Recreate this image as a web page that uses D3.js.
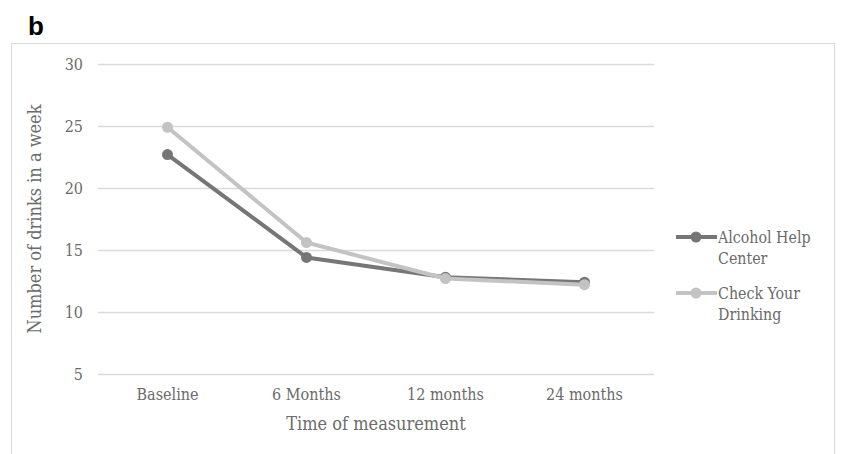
<!DOCTYPE html>
<html>
<head>
<meta charset="utf-8">
<script src="https://cdn.jsdelivr.net/npm/d3@7"></script>
<style>
  body { margin: 0; background: #fff; }
  text { font-family: "DejaVu Serif Condensed", "DejaVu Serif", serif; font-stretch: condensed; fill: #6b6b6b; }
</style>
</head>
<body>
<div id="chart"></div>
<script>
var categories = ["Baseline", "6 Months", "12 months", "24 months"];
var alcoholHelpCenter = [22.7, 14.4, 12.8, 12.4];
var checkYourDrinking = [24.9, 15.6, 12.7, 12.2];
var yTicks = [5, 10, 15, 20, 25, 30];
var seriesNames = ["Alcohol Help Center", "Check Your Drinking"];
var seriesColors = ["#767676", "#c3c3c3"];

var W = 841, H = 454;
var margin = { top: 64, left: 98, right: 187, bottom: 80 };
var width = W - margin.left - margin.right,
    height = H - margin.top - margin.bottom;

var svg = d3.select("#chart")
    .append("svg")
    .attr("width", W)
    .attr("height", H);

// panel letter
svg.append("text")
    .attr("x", 28).attr("y", 35)
    .style("font-family", "Liberation Sans, Arial, sans-serif")
    .style("font-stretch", "normal")
    .style("font-weight", "bold")
    .style("font-size", "26px")
    .style("fill", "#000")
    .text("b");

// chart frame
svg.append("rect")
    .attr("x", 11.5).attr("y", 43.5)
    .attr("width", 823).attr("height", 420)
    .attr("fill", "none")
    .attr("stroke", "#d9d9d9");

var g = svg.append("g")
    .attr("transform", "translate(" + margin.left + "," + margin.top + ")");

var x = d3.scaleBand().domain(categories).range([0, width]);
var y = d3.scaleLinear().domain([5, 30]).range([height, 0]);

// gridlines + y labels
var yAxis = g.append("g")
    .call(d3.axisLeft(y).tickValues(yTicks).tickSize(-width).tickPadding(15));
yAxis.select(".domain").remove();
yAxis.selectAll(".tick line").attr("stroke", "#d9d9d9").attr("stroke-width", 1.3);
yAxis.selectAll(".tick text").style("font-size", "16px").style("fill", "#6b6b6b");

// x labels
var xAxis = g.append("g")
    .attr("transform", "translate(0," + height + ")")
    .call(d3.axisBottom(x).tickSize(0).tickPadding(15));
xAxis.select(".domain").remove();
xAxis.selectAll(".tick text").style("font-size", "16px").style("fill", "#6b6b6b");

// axis titles
g.append("text")
    .attr("x", width / 2).attr("y", height + 56)
    .attr("text-anchor", "middle")
    .style("font-size", "18px")
    .text("Time of measurement");

g.append("text")
    .attr("transform", "translate(-57," + (height / 2) + ") rotate(-90)")
    .attr("text-anchor", "middle")
    .style("font-size", "18px")
    .text("Number of drinks in a week");

var line = d3.line()
    .x(function (d, i) { return x(categories[i]) + x.bandwidth() / 2; })
    .y(function (d) { return y(d); });

var allSeries = [alcoholHelpCenter, checkYourDrinking];
allSeries.forEach(function (vals, s) {
    g.append("path")
        .datum(vals)
        .attr("fill", "none")
        .attr("stroke", seriesColors[s])
        .attr("stroke-width", 4)
        .attr("stroke-linejoin", "round")
        .attr("d", line);
    g.selectAll(".pt" + s)
        .data(vals)
        .enter()
        .append("circle")
        .attr("cx", function (d, i) { return x(categories[i]) + x.bandwidth() / 2; })
        .attr("cy", function (d) { return y(d); })
        .attr("r", 5.5)
        .attr("fill", seriesColors[s]);
});

// legend
var legend = svg.append("g").attr("transform", "translate(676,237)");
seriesNames.forEach(function (name, s) {
    var lg = legend.append("g").attr("transform", "translate(0," + (s * 56) + ")");
    lg.append("line")
        .attr("x1", 0).attr("x2", 41).attr("y1", 0).attr("y2", 0)
        .attr("stroke", seriesColors[s]).attr("stroke-width", 4);
    lg.append("circle").attr("cx", 20).attr("cy", 0).attr("r", 5.5)
        .attr("fill", seriesColors[s]);
    var words = name.split(" ");
    var t = lg.append("text").attr("x", 42).attr("y", 6).style("font-size", "15.8px");
    t.append("tspan").attr("x", 42).text(words.slice(0, 2).join(" "));
    t.append("tspan").attr("x", 42).attr("dy", 21).text(words.slice(2).join(" "));
});
</script>
</body>
</html>
